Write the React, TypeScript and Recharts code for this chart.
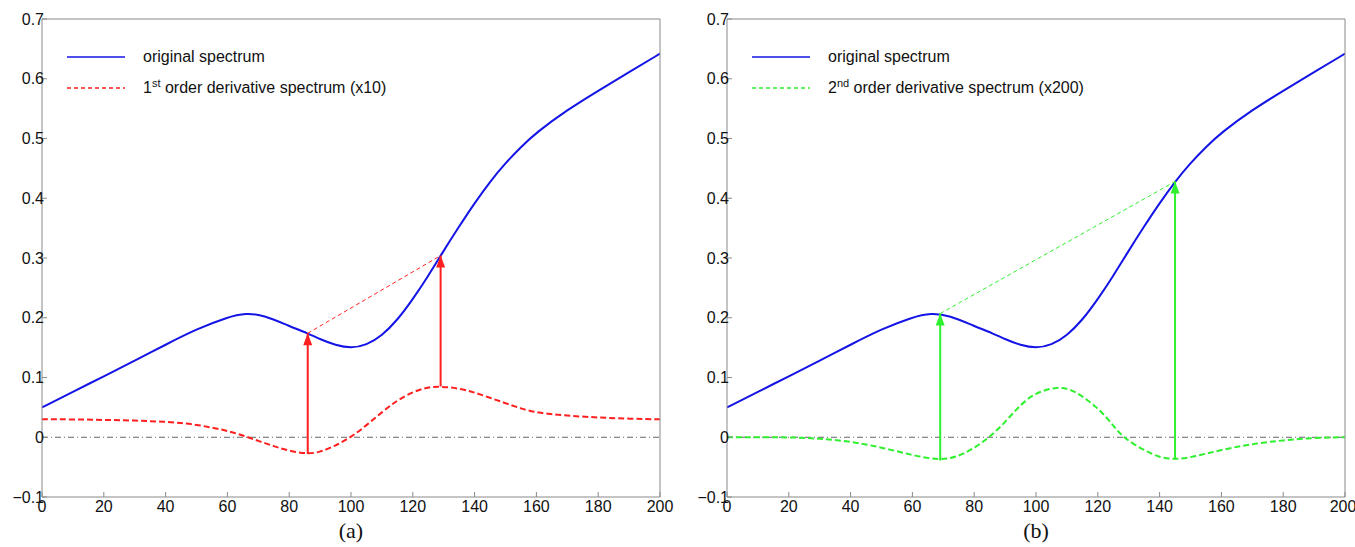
import React from "react";
import { LineChart, Line, XAxis, YAxis, ReferenceLine } from "recharts";

// original spectrum, same in both panels
const SPEC_X = [0, 10, 20, 30, 40, 50, 60, 66, 72, 80, 86, 90, 95, 100, 105, 110, 115, 120, 125, 129, 135, 140, 145, 150, 155, 160, 170, 180, 190, 200];
const SPEC_Y = [0.05, 0.076, 0.102, 0.128, 0.155, 0.181, 0.201, 0.208, 0.204, 0.186, 0.174, 0.164, 0.154, 0.149, 0.154, 0.17, 0.196, 0.231, 0.27, 0.304, 0.353, 0.392, 0.428, 0.459, 0.486, 0.51, 0.548, 0.58, 0.611, 0.642];

// 1st order derivative (x10)
const D1_X = [0, 10, 20, 30, 40, 45, 50, 55, 60, 65, 70, 75, 80, 86, 90, 95, 100, 105, 110, 115, 120, 125, 129, 135, 140, 145, 150, 155, 160, 170, 180, 190, 200];
const D1_Y = [0.03, 0.03, 0.029, 0.028, 0.026, 0.024, 0.021, 0.016, 0.011, 0.003, -0.006, -0.015, -0.023, -0.028, -0.025, -0.014, 0.0, 0.02, 0.042, 0.062, 0.076, 0.084, 0.085, 0.082, 0.075, 0.066, 0.057, 0.048, 0.041, 0.036, 0.033, 0.031, 0.03];

// 2nd order derivative (x200)
const D2_X = [0, 10, 20, 30, 40, 50, 60, 69, 75, 80, 85, 90, 95, 100, 107, 112, 120, 125, 128, 135, 140, 145, 150, 160, 170, 180, 190, 200];
const D2_Y = [0.0, 0.0, 0.0, -0.002, -0.007, -0.017, -0.03, -0.039, -0.032, -0.018, 0.0, 0.025, 0.055, 0.075, 0.085, 0.08, 0.05, 0.02, 0.0, -0.022, -0.034, -0.037, -0.034, -0.021, -0.011, -0.005, -0.001, 0.0];

// arrows: [x, bottom, top]
const ARROWS_A = [[86, -0.028, 0.174], [129, 0.085, 0.304]];
const ARROWS_B = [[69, -0.039, 0.207], [145, -0.037, 0.428]];

const X_TICKS = [0, 20, 40, 60, 80, 100, 120, 140, 160, 180, 200];
const Y_TICKS = [-0.1, 0, 0.1, 0.2, 0.3, 0.4, 0.5, 0.6, 0.7];

const BLUE = "#1414e6";
const RED = "#ff1f1f";
const GREEN = "#2ef02e";
const AXIS = "#8a8a8a";
const FONT = "'Liberation Sans', Arial, sans-serif";

const zip = (xs: number[], ys: number[]) => xs.map((x, i) => ({ x, y: ys[i] }));

const fmtY = (v: number) => (v === 0 ? "0" : v < 0 ? "\u2212" + Math.abs(v) : String(v));

const tickStyle = { fontSize: 16, fill: "#111", fontFamily: FONT };

function ArrowHead(props: any) {
  const { cx, cy, index, color } = props;
  if (index !== 1 || cx == null) return <g key={`h${index}`} />;
  return <polygon key={`h${index}`} points={`${cx},${cy} ${cx - 4.5},${cy + 12} ${cx + 4.5},${cy + 12}`} fill={color} />;
}

function Panel({ deriv, arrows, color, width }: { deriv: { x: number; y: number }[]; arrows: number[][]; color: string; width: number }) {
  const spec = zip(SPEC_X, SPEC_Y);
  const link = arrows.map((a) => ({ x: a[0], y: a[2] }));
  return (
    <LineChart width={width} height={547} margin={{ top: 18, right: width - 661, bottom: 20, left: 10 }}>
      <XAxis type="number" dataKey="x" domain={[0, 200]} ticks={X_TICKS} tick={tickStyle} tickSize={-5} tickMargin={9} height={30} stroke={AXIS} allowDataOverflow />
      <XAxis xAxisId="top" orientation="top" type="number" dataKey="x" domain={[0, 200]} ticks={X_TICKS} tick={false} tickSize={-5} height={1} stroke={AXIS} />
      <YAxis type="number" dataKey="y" domain={[-0.1, 0.7]} ticks={Y_TICKS} tick={tickStyle} tickFormatter={fmtY} tickSize={-5} tickMargin={3} width={32} stroke={AXIS} allowDataOverflow />
      <YAxis yAxisId="right" orientation="right" type="number" domain={[-0.1, 0.7]} ticks={Y_TICKS} tick={false} tickSize={-5} width={1} stroke={AXIS} />
      <ReferenceLine y={0} stroke="#666" strokeWidth={1} strokeDasharray="6 3 1 3" />
      <Line data={spec} dataKey="y" type="basis" stroke={BLUE} strokeWidth={2} dot={false} isAnimationActive={false} />
      <Line data={deriv} dataKey="y" type="basis" stroke={color} strokeWidth={2} strokeDasharray="6 3" dot={false} isAnimationActive={false} />
      <Line data={link} dataKey="y" type="linear" stroke={color} strokeWidth={1} strokeDasharray="4 3" dot={false} isAnimationActive={false} />
      {arrows.map((a, i) => (
        <Line
          key={i}
          data={[{ x: a[0], y: a[1] }, { x: a[0], y: a[2] }]}
          dataKey="y"
          type="linear"
          stroke={color}
          strokeWidth={2}
          dot={(p: any) => <ArrowHead {...p} color={color} />}
          isAnimationActive={false}
        />
      ))}
    </LineChart>
  );
}

function LegendBox({ left, color, label }: { left: number; color: string; label: React.ReactNode }) {
  const row = (y: number, stroke: string, dash: string | undefined, w: number, text: React.ReactNode) => (
    <div style={{ position: "absolute", left: 0, top: y - 12, height: 24, display: "flex", alignItems: "center", whiteSpace: "nowrap" }}>
      <svg width={60} height={24} style={{ display: "block" }}>
        <line x1={0} x2={58} y1={12} y2={12} stroke={stroke} strokeWidth={w} strokeDasharray={dash} />
      </svg>
      <span style={{ marginLeft: 16, fontFamily: FONT, fontSize: 16, color: "#111" }}>{text}</span>
    </div>
  );
  return (
    <div style={{ position: "absolute", left, top: 0 }}>
      {row(57, BLUE, undefined, 1.6, "original spectrum")}
      {row(88, color, "4 3", 1.6, label)}
    </div>
  );
}

export default function App() {
  const supStyle = { fontSize: 11, verticalAlign: "super", lineHeight: 0 } as React.CSSProperties;
  const capStyle = { position: "absolute", width: 80, top: 518, textAlign: "center", fontFamily: "'Liberation Serif', 'Times New Roman', serif", fontSize: 22, color: "#111" } as React.CSSProperties;
  return (
    <div style={{ position: "absolute", left: 0, top: 0, width: 1355, height: 547, background: "#fff", overflow: "hidden" }}>
      <div style={{ position: "absolute", left: 0, top: 0 }}>
        <Panel deriv={zip(D1_X, D1_Y)} arrows={ARROWS_A} color={RED} width={680} />
      </div>
      <div style={{ position: "absolute", left: 685, top: 0 }}>
        <Panel deriv={zip(D2_X, D2_Y)} arrows={ARROWS_B} color={GREEN} width={670} />
      </div>
      <LegendBox left={67} color={RED} label={<>1<span style={supStyle}>st</span> order derivative spectrum (x10)</>} />
      <LegendBox left={752} color={GREEN} label={<>2<span style={supStyle}>nd</span> order derivative spectrum (x200)</>} />
      <div style={{ ...capStyle, left: 311 }}>(a)</div>
      <div style={{ ...capStyle, left: 996 }}>(b)</div>
    </div>
  );
}
